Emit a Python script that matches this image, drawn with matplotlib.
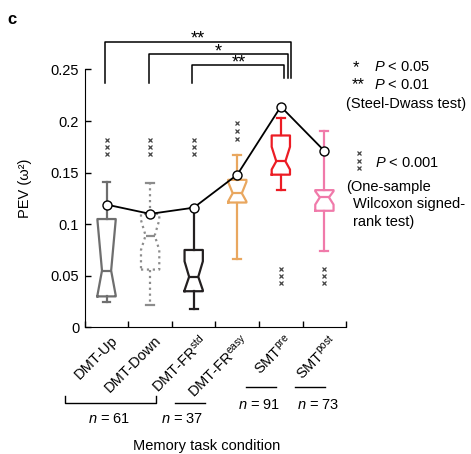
import matplotlib
matplotlib.use('Agg')
import matplotlib.pyplot as plt
import matplotlib.transforms as mtransforms

plt.rcParams['font.family'] = ['Liberation Sans', 'DejaVu Sans']
plt.rcParams['mathtext.fontset'] = 'custom'
plt.rcParams['mathtext.rm'] = 'Liberation Sans'
plt.rcParams['mathtext.it'] = 'Liberation Sans:italic'
plt.rcParams['mathtext.bf'] = 'Liberation Sans:bold'

# conditions
labels = ['DMT-Up', 'DMT-Down', r'DMT-FR$^{\mathregular{std}}$',
          r'DMT-FR$^{\mathregular{easy}}$', r'SMT$^{\mathregular{pre}}$',
          r'SMT$^{\mathregular{post}}$']
colors = ['#6e6e6e', '#8c8c8c', '#231f20', '#e9a75f', '#ec1c24', '#f07aaa']
styles = ['-', ':', '-', '-', '-', '-']

# box statistics (PEV, omega^2)
whislo = [0.025, 0.022, 0.018, 0.066, 0.133, 0.074]
q1 = [0.030, 0.056, 0.035, 0.121, 0.148, 0.113]
med = [0.055, 0.089, 0.049, 0.130, 0.161, 0.126]
q3 = [0.105, 0.110, 0.075, 0.143, 0.186, 0.133]
whishi = [0.141, 0.140, 0.116, 0.167, 0.203, 0.190]
cilo = [0.031, 0.075, 0.036, 0.122, 0.153, 0.119]
cihi = [0.104, 0.104, 0.064, 0.141, 0.175, 0.132]
means = [0.119, 0.110, 0.116, 0.148, 0.214, 0.171]

# one-sample test markers (three x's) per condition
sig_y = [[0.182, 0.175, 0.168], [0.182, 0.175, 0.168], [0.182, 0.175, 0.168],
         [0.198, 0.190, 0.183], [0.057, 0.050, 0.043], [0.057, 0.050, 0.043]]

# pairwise comparisons: (from, to, height, stars)
pairs = [(0, 4, 0.277, '**'), (1, 4, 0.265, '*'), (2, 4, 0.254, '**')]

fig = plt.figure(figsize=(4.71, 4.54), dpi=100)
ax = fig.add_axes([0.180, 0.279, 0.555, 0.568])
pos = [i + 0.5 for i in range(6)]

for i in range(6):
    st = dict(med=med[i], q1=q1[i], q3=q3[i], whislo=whislo[i], whishi=whishi[i],
              cilo=cilo[i], cihi=cihi[i], fliers=[])
    lp = dict(color=colors[i], lw=1.6, ls=styles[i])
    ax.bxp([st], positions=[pos[i]], widths=0.42, capwidths=0.18,
           shownotches=True, showfliers=False, boxprops=lp, whiskerprops=lp,
           capprops=dict(color=colors[i], lw=1.6), medianprops=dict(color=colors[i], lw=1.6))
    for y in sig_y[i]:
        ax.plot(pos[i], y, 'x', color='#444444', ms=3.4, mew=0.9, clip_on=False)

ax.plot(pos, means, '-o', color='black', lw=1.3, ms=6.5, mfc='white', mec='black',
        mew=1.0, zorder=5, clip_on=False)

# brackets
for a, b, h, s in pairs:
    xa = pos[a] - 0.03
    xb = pos[b] + 0.08 * (4 - a) - 0.08
    ax.plot([xa, xa, xb, xb], [0.237, h, h, 0.242], color='black', lw=1.1, clip_on=False)
    ax.text((xa + xb) / 2, h - 0.002, s, ha='center', va='baseline', fontsize=13)

ax.set_xlim(0, 6)
ax.set_ylim(0, 0.25)
ax.spines['top'].set_visible(False)
ax.spines['right'].set_visible(False)
ax.set_yticks([0, 0.05, 0.1, 0.15, 0.2, 0.25])
ax.set_yticklabels(['0', '0.05', '0.1', '0.15', '0.2', '0.25'])
ax.set_xticks(range(7))
ax.set_xticklabels([])
ax.set_xticks(pos, minor=True)
ax.set_xticklabels(labels, minor=True, rotation=45, ha='right', va='top',
                   rotation_mode='anchor')
ax.tick_params(axis='both', which='major', direction='in', length=4, width=1,
               labelsize=10.5, pad=4)
ax.tick_params(axis='x', which='minor', length=0, labelsize=10.5, pad=4)
offset = mtransforms.ScaledTranslation(0.04, 0, fig.dpi_scale_trans)
for lab in ax.get_xticklabels(minor=True):
    lab.set_transform(lab.get_transform() + offset)
ax.set_ylabel('PEV (ω²)', fontsize=10.5)
ax.yaxis.set_label_coords(-0.2, 0.54)

# group annotations below the axis
trans = mtransforms.blended_transform_factory(ax.transData, fig.transFigure)
ax.plot([-0.46, -0.46, 1.63, 1.63], [0.128, 0.113, 0.113, 0.128], color='black',
        lw=1.0, transform=trans, clip_on=False)
ax.plot([2.07, 2.75], [0.113, 0.113], color='black', lw=1.0, transform=trans, clip_on=False)
ax.plot([3.70, 4.39], [0.147, 0.147], color='black', lw=1.0, transform=trans, clip_on=False)
ax.plot([4.83, 5.52], [0.147, 0.147], color='black', lw=1.0, transform=trans, clip_on=False)
ax.text(0.55, 0.077, r'$\mathit{n}$ = 61', transform=trans, ha='center', va='center', fontsize=10.5)
ax.text(2.24, 0.077, r'$\mathit{n}$ = 37', transform=trans, ha='center', va='center', fontsize=10.5)
ax.text(4.0, 0.108, r'$\mathit{n}$ = 91', transform=trans, ha='center', va='center', fontsize=10.5)
ax.text(5.36, 0.108, r'$\mathit{n}$ = 73', transform=trans, ha='center', va='center', fontsize=10.5)
fig.text(0.439, 0.018, 'Memory task condition', ha='center', va='center', fontsize=10.5)

# legend text on the right
fig.text(0.749, 0.852, '*', ha='left', va='center', fontsize=12)
fig.text(0.794, 0.852, r'$\mathit{P}$ < 0.05', ha='left', va='center', fontsize=10.5)
fig.text(0.746, 0.813, '**', ha='left', va='center', fontsize=12)
fig.text(0.794, 0.813, r'$\mathit{P}$ < 0.01', ha='left', va='center', fontsize=10.5)
fig.text(0.735, 0.771, '(Steel-Dwass test)', ha='left', va='center', fontsize=10.5)
for y in [0.1686, 0.1617, 0.1541]:
    ax.plot(6.30, y, 'x', color='#444444', ms=3.4, mew=0.9, clip_on=False)
fig.text(0.796, 0.642, r'$\mathit{P}$ < 0.001', ha='left', va='center', fontsize=10.5)
fig.text(0.735, 0.589, '(One-sample', ha='left', va='center', fontsize=10.5)
fig.text(0.750, 0.551, 'Wilcoxon signed-', ha='left', va='center', fontsize=10.5)
fig.text(0.750, 0.512, 'rank test)', ha='left', va='center', fontsize=10.5)

fig.text(0.025, 0.956, 'c', ha='center', va='center', fontsize=12, fontweight='bold')

fig.savefig('out.png', dpi=100)
